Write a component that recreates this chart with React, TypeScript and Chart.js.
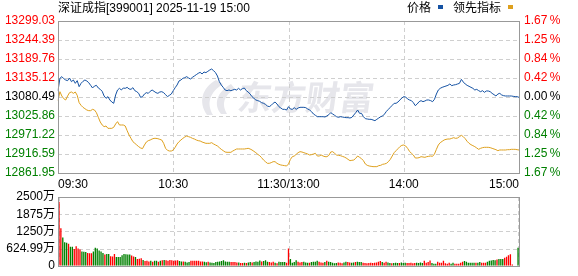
import React, { useEffect, useRef } from "react";
import { Chart, registerables } from "chart.js";

Chart.register(...registerables);

// ---------- data ----------
const TITLE = "深证成指[399001] 2025-11-19 15:00";
const SERIES_NAMES = ["价格", "领先指标"];
const WATERMARK = "东方财富";

const PREV_CLOSE = 13080.49;
const PRICE_MIN = 12861.95;
const PRICE_MAX = 13299.03;
const PRICE_TICKS = [12861.95, 12916.59, 12971.22, 13025.86, 13080.49, 13135.12, 13189.76, 13244.39, 13299.03];
const PRICE_TICK_LABELS = ["12861.95", "12916.59", "12971.22", "13025.86", "13080.49", "13135.12", "13189.76", "13244.39", "13299.03"];
const PCT_TICK_LABELS = ["1.67\u2009%", "1.25\u2009%", "0.84\u2009%", "0.42\u2009%", "0.00\u2009%", "0.42\u2009%", "0.84\u2009%", "1.25\u2009%", "1.67\u2009%"];

const VOL_MAX = 2500;
const VOL_TICKS = [0, 625, 1250, 1875, 2500];
const VOL_TICK_LABELS = ["0", "624.99万", "1250万", "1875万", "2500万"];

const TIME_TICK_INDEX = [0, 60, 120, 180, 240];
const TIME_TICK_LABELS = ["09:30", "10:30", "11:30/13:00", "14:00", "15:00"];

function minuteLabel(i: number): string {
  const t = i <= 120 ? 570 + i : 780 + (i - 120);
  const h = Math.floor(t / 60);
  const m = t % 60;
  return String(h).padStart(2, "0") + ":" + String(m).padStart(2, "0");
}
const TIMES: string[] = Array.from({ length: 241 }, (_, i) => minuteLabel(i));

const PRICE = [
  13098.7, 13134.2, 13139.0, 13133.2, 13129.4, 13127.5, 13135.1, 13124.6, 13129.4, 13119.8,
  13127.5, 13110.2, 13119.8, 13125.5, 13129.4, 13126.5, 13121.7, 13114.0, 13106.4, 13112.1,
  13114.0, 13106.4, 13102.5, 13096.8, 13083.4, 13076.7, 13081.5, 13071.9, 13066.1, 13062.3,
  13086.3, 13100.6, 13105.4, 13100.6, 13106.4, 13105.4, 13108.3, 13103.5, 13102.5, 13107.3,
  13098.7, 13095.8, 13091.0, 13079.5, 13081.5, 13089.1, 13093.0, 13091.0, 13096.8, 13100.6,
  13096.8, 13093.0, 13091.0, 13094.9, 13095.8, 13093.0, 13087.2, 13081.5, 13085.3, 13089.1,
  13098.7, 13107.3, 13115.0, 13126.5, 13129.4, 13134.2, 13136.1, 13139.0, 13135.1, 13132.3,
  13137.1, 13140.9, 13144.7, 13148.6, 13151.4, 13146.6, 13152.4, 13150.5, 13154.3, 13158.1,
  13161.0, 13156.2, 13150.5, 13140.9, 13124.6, 13115.0, 13108.3, 13100.6, 13098.7, 13100.6,
  13098.7, 13100.6, 13102.5, 13100.6, 13105.4, 13100.6, 13104.5, 13106.4, 13098.7, 13094.9,
  13089.1, 13081.5, 13076.7, 13071.9, 13070.0, 13068.0, 13064.2, 13062.3, 13059.4, 13054.6,
  13052.7, 13056.5, 13062.3, 13066.1, 13060.4, 13052.7, 13048.9, 13045.0, 13045.0, 13043.1,
  13052.7, 13046.0, 13045.0, 13049.8, 13045.0, 13048.9, 13050.8, 13050.8, 13050.8, 13049.8,
  13046.0, 13043.1, 13038.3, 13031.6, 13027.8, 13023.9, 13023.9, 13023.9, 13023.9, 13023.0,
  13025.9, 13029.7, 13035.5, 13031.6, 13027.8, 13023.9, 13022.0, 13023.9, 13023.0, 13022.0,
  13021.1, 13021.1, 13020.1, 13022.0, 13028.7, 13035.5, 13043.1, 13033.5, 13033.5, 13023.9,
  13018.2, 13017.2, 13016.3, 13016.3, 13014.4, 13012.4, 13016.3, 13020.1, 13023.9, 13025.9,
  13031.6, 13039.3, 13045.0, 13050.8, 13056.5, 13062.3, 13062.3, 13066.1, 13071.9, 13077.6,
  13081.5, 13080.5, 13074.7, 13071.9, 13070.0, 13064.2, 13055.6, 13060.4, 13067.1, 13070.0,
  13067.1, 13069.0, 13071.9, 13071.9, 13070.0, 13067.1, 13073.8, 13089.1, 13100.6, 13105.4,
  13108.3, 13110.2, 13112.1, 13114.0, 13117.9, 13113.1, 13115.0, 13116.0, 13117.9, 13119.8,
  13131.3, 13123.6, 13117.9, 13114.0, 13111.2, 13108.3, 13105.4, 13100.6, 13102.5, 13098.7,
  13095.8, 13098.7, 13093.9, 13097.8, 13097.8, 13095.8, 13091.0, 13087.2, 13083.4, 13089.1,
  13091.0, 13086.3, 13084.3, 13083.4, 13083.4, 13083.4, 13083.4, 13082.4, 13081.5, 13081.5, 13079.5,
];

const LEAD = [
  13070.0, 13095.8, 13083.4, 13075.7, 13071.9, 13083.4, 13092.9, 13094.9, 13091.0, 13094.9,
  13085.3, 13064.2, 13056.5, 13050.8, 13046.9, 13043.1, 13041.2, 13041.2, 13045.0, 13043.1,
  13035.4, 13022.0, 13008.6, 13000.0, 12995.2, 12997.1, 12990.4, 12990.4, 12990.4, 12993.3,
  13002.9, 13009.6, 13000.0, 13000.0, 13000.0, 12997.1, 12983.7, 12971.2, 12961.6, 12952.0,
  12947.3, 12942.5, 12937.7, 12933.9, 12932.0, 12942.5, 12951.1, 12954.9, 12956.8, 12959.7,
  12961.6, 12961.6, 12960.6, 12958.7, 12956.8, 12947.3, 12932.9, 12927.2, 12925.2, 12925.2,
  12928.1, 12935.8, 12945.4, 12952.0, 12956.8, 12961.6, 12965.4, 12968.3, 12966.4, 12964.5,
  12961.6, 12959.7, 12956.8, 12954.9, 12954.0, 12951.1, 12949.2, 12947.3, 12947.3, 12947.3,
  12949.2, 12945.4, 12942.5, 12939.6, 12934.8, 12930.0, 12926.2, 12922.3, 12921.4, 12921.4,
  12921.4, 12925.2, 12928.1, 12931.0, 12931.0, 12931.0, 12931.0, 12931.0, 12931.9, 12932.9,
  12931.0, 12928.1, 12924.3, 12920.4, 12915.6, 12911.8, 12906.0, 12899.3, 12894.5, 12889.8,
  12889.8, 12891.7, 12894.5, 12894.5, 12889.8, 12886.9, 12885.0, 12884.0, 12883.1, 12882.1,
  12887.9, 12901.2, 12908.9, 12910.8, 12915.6, 12920.4, 12923.3, 12922.3, 12920.4, 12918.5,
  12916.6, 12913.7, 12914.7, 12916.6, 12918.5, 12910.8, 12910.8, 12913.7, 12910.8, 12908.9,
  12908.9, 12912.7, 12922.3, 12923.3, 12918.5, 12913.7, 12912.7, 12911.8, 12909.9, 12908.0,
  12905.1, 12901.2, 12897.4, 12898.4, 12899.3, 12904.1, 12910.8, 12907.0, 12903.2, 12897.4,
  12887.9, 12884.0, 12882.1, 12881.1, 12880.2, 12880.2, 12880.2, 12883.1, 12884.0, 12886.9,
  12887.9, 12889.8, 12894.5, 12901.2, 12910.8, 12920.4, 12926.2, 12931.9, 12937.7, 12941.5,
  12942.5, 12939.6, 12932.9, 12924.3, 12918.5, 12913.7, 12905.1, 12905.1, 12906.0, 12908.9,
  12908.0, 12907.0, 12908.9, 12909.9, 12910.8, 12909.9, 12916.6, 12930.0, 12942.5, 12949.2,
  12953.0, 12956.8, 12958.7, 12959.7, 12959.7, 12961.6, 12963.5, 12961.6, 12962.6, 12966.4,
  12970.2, 12966.4, 12960.6, 12953.0, 12947.3, 12943.4, 12940.6, 12937.7, 12933.9, 12930.0,
  12932.9, 12934.8, 12935.8, 12935.8, 12935.8, 12934.8, 12932.9, 12931.0, 12929.0, 12926.2,
  12928.1, 12928.1, 12928.1, 12928.1, 12929.0, 12929.0, 12930.0, 12930.0, 12930.0, 12929.0, 12928.1,
];

// volume in 万
const VOLUME = [
  2330, 1369, 1030, 860, 837, 803, 690, 690, 611, 713,
  633, 588, 520, 509, 498, 464, 452, 452, 520, 656,
  633, 554, 520, 464, 407, 430, 430, 351, 339, 430,
  317, 317, 317, 385, 430, 419, 407, 407, 373, 339,
  317, 249, 260, 271, 215, 170, 181, 158, 181, 147,
  181, 181, 147, 181, 204, 215, 204, 181, 215, 204,
  181, 190, 204, 170, 158, 158, 147, 124, 136, 181,
  181, 181, 181, 181, 158, 158, 147, 130, 147, 124,
  113, 102, 136, 147, 158, 170, 204, 158, 147, 147,
  136, 136, 136, 120, 124, 102, 102, 113, 102, 124,
  136, 124, 136, 158, 147, 192, 158, 170, 204, 150,
  136, 124, 147, 113, 90, 147, 136, 136, 136, 113,
  633, 249, 113, 136, 204, 147, 124, 136, 147, 124,
  113, 113, 136, 147, 147, 181, 147, 124, 113, 136,
  181, 147, 136, 113, 90, 102, 124, 113, 90, 124,
  147, 136, 124, 113, 124, 136, 147, 136, 136, 113,
  102, 90, 102, 113, 102, 113, 124, 147, 170, 136,
  113, 147, 124, 102, 90, 102, 113, 102, 102, 124,
  102, 113, 102, 102, 113, 90, 102, 113, 102, 124,
  102, 181, 113, 136, 192, 102, 78, 78, 146, 112,
  112, 180, 90, 78, 112, 78, 112, 78, 78, 78,
  112, 146, 170, 146, 112, 112, 112, 112, 112, 112,
  135, 112, 112, 112, 146, 180, 190, 210, 203, 225,
  248, 248, 248, 293, 327, 384, 418, 44, 0, 0, 655,
];

// R = up (red), G = down (green)
const VOLUME_DIR = [
  "R", "R", "G", "G", "G", "R", "G", "G", "R", "R",
  "R", "R", "G", "G", "G", "R", "R", "R", "G", "G",
  "G", "G", "G", "G", "R", "G", "G", "R", "R", "R",
  "G", "G", "G", "G", "G", "G", "G", "G", "R", "R",
  "G", "R", "R", "R", "G", "R", "R", "R", "G", "R",
  "G", "G", "R", "G", "R", "G", "R", "R", "R", "R",
  "R", "R", "R", "G", "G", "R", "G", "G", "G", "R",
  "R", "R", "R", "R", "R", "R", "G", "G", "R", "G",
  "G", "G", "G", "G", "G", "G", "G", "G", "G", "G",
  "R", "R", "R", "R", "G", "R", "R", "G", "R", "G",
  "G", "R", "G", "G", "G", "G", "R", "G", "G", "G",
  "R", "R", "R", "G", "R", "G", "G", "G", "G", "R",
  "R", "G", "G", "G", "G", "R", "R", "R", "G", "G",
  "G", "R", "G", "G", "G", "G", "R", "R", "R", "G",
  "R", "G", "G", "G", "G", "G", "R", "R", "R", "G",
  "G", "R", "R", "G", "G", "R", "G", "G", "G", "R",
  "R", "R", "R", "R", "R", "R", "R", "R", "R", "G",
  "R", "R", "G", "G", "R", "G", "G", "G", "R", "G",
  "G", "G", "R", "R", "R", "R", "R", "G", "G", "G",
  "G", "R", "R", "R", "R", "G", "G", "G", "R", "R",
  "R", "R", "R", "R", "R", "G", "G", "R", "R", "R",
  "R", "R", "G", "G", "G", "G", "G", "G", "R", "G",
  "G", "R", "R", "R", "G", "G", "G", "G", "G", "R",
  "G", "G", "G", "R", "R", "R", "R", "R", "R", "R", "G",
];

// ---------- styles ----------
const FONT = '"Liberation Sans", Arial, "Noto Sans CJK SC", sans-serif';
const CJK_FONT = '"Noto Sans CJK SC", "Liberation Sans", sans-serif';
const RED = "#ff0000";
const GREEN = "#008000";
const BLACK = "#000000";
const BLUE_LINE = "#1552a3";
const ORANGE_LINE = "#dea01e";
const GRID = "#cfcfcf";
const FRAME = "#999999";
const W = 578;
const PLOT_LEFT = 58;
const PLOT_RIGHT_GAP = 59;

// dashed grid drawn from the chart's own scales
const gridPlugin = {
  id: "dashGrid",
  beforeDatasetsDraw(chart: any) {
    const { ctx, chartArea, scales } = chart;
    const { left, right, top, bottom } = chartArea;
    ctx.save();
    ctx.strokeStyle = GRID;
    ctx.lineWidth = 1;
    ctx.setLineDash([4, 3]);
    const ys = scales.y;
    ys.ticks.forEach((t: any) => {
      const p = Math.round(ys.getPixelForValue(t.value)) + 0.5;
      ctx.beginPath();
      ctx.moveTo(left, p);
      ctx.lineTo(right, p);
      ctx.stroke();
    });
    const xs = scales.x;
    xs.ticks.forEach((t: any) => {
      const p = Math.round(xs.getPixelForValue(t.value)) + 0.5;
      ctx.beginPath();
      ctx.moveTo(p, top);
      ctx.lineTo(p, bottom);
      ctx.stroke();
    });
    ctx.restore();
  },
};

const framePlugin = {
  id: "frame",
  afterDatasetsDraw(chart: any) {
    const { ctx, chartArea } = chart;
    ctx.save();
    ctx.strokeStyle = FRAME;
    ctx.lineWidth = 1;
    ctx.strokeRect(
      Math.round(chartArea.left) + 0.5,
      Math.round(chartArea.top) + 0.5,
      Math.round(chartArea.right - chartArea.left),
      Math.round(chartArea.bottom - chartArea.top)
    );
    ctx.restore();
  },
};

const decorPlugin = {
  id: "decor",
  beforeDatasetsDraw(chart: any) {
    const { ctx } = chart;
    ctx.save();
    ctx.fillStyle = "#e6e6eb";
    // logo swoosh
    ctx.beginPath();
    ctx.moveTo(216, 80);
    ctx.bezierCurveTo(202, 88, 198, 102, 207, 115);
    ctx.lineTo(213, 115);
    ctx.bezierCurveTo(206, 103, 210, 92, 223, 84);
    ctx.closePath();
    ctx.fill();
    ctx.beginPath();
    ctx.moveTo(231, 84);
    ctx.bezierCurveTo(217, 92, 213, 104, 221, 114);
    ctx.lineTo(227, 114);
    ctx.bezierCurveTo(221, 104, 224, 95, 235, 89);
    ctx.closePath();
    ctx.fill();
    // text
    ctx.translate(238, 97);
    ctx.transform(1, 0, -0.14, 1, 0, 0);
    ctx.font = "bold 34px " + CJK_FONT;
    ctx.textAlign = "left";
    ctx.textBaseline = "middle";
    ctx.fillText(WATERMARK, 0, 0);
    ctx.restore();
  },
  afterDraw(chart: any) {
    const { ctx } = chart;
    ctx.save();
    ctx.fillStyle = BLACK;
    ctx.textBaseline = "middle";
    ctx.textAlign = "left";
    ctx.font = "12px " + FONT;
    ctx.fillText(TITLE, 58, 8.5);
    ctx.fillText(SERIES_NAMES[0], 407, 8.5);
    ctx.fillText(SERIES_NAMES[1], 453, 8.5);
    ctx.fillStyle = BLUE_LINE;
    ctx.fillRect(438, 5, 5, 4);
    ctx.fillStyle = ORANGE_LINE;
    ctx.fillRect(508, 5, 5, 4);
    ctx.restore();
  },
};

function tickColor(c: any) {
  if (c.index > 4) return RED;
  if (c.index === 4) return BLACK;
  return GREEN;
}

export default function App() {
  const mainRef = useRef<HTMLCanvasElement>(null);
  const volRef = useRef<HTMLCanvasElement>(null);

  useEffect(() => {
    document.body.style.margin = "0";
    const font = { family: FONT, size: 12 };

    const main = new Chart(mainRef.current as HTMLCanvasElement, {
      type: "line",
      data: {
        labels: TIMES,
        datasets: [
          {
            label: SERIES_NAMES[0],
            data: PRICE,
            borderColor: BLUE_LINE,
            borderWidth: 1,
            pointRadius: 0,
            tension: 0,
            fill: false,
            yAxisID: "y",
          },
          {
            label: SERIES_NAMES[1],
            data: LEAD,
            borderColor: ORANGE_LINE,
            borderWidth: 1,
            pointRadius: 0,
            tension: 0,
            fill: false,
            yAxisID: "y",
          },
        ],
      },
      options: {
        animation: false,
        responsive: false,
        devicePixelRatio: 1,
        layout: { padding: { top: 21, left: 0, right: 0, bottom: 0 } },
        plugins: { legend: { display: false }, tooltip: { enabled: false }, title: { display: false } },
        events: [],
        scales: {
          x: {
            type: "category",
            offset: false,
            grid: { display: false, drawTicks: false },
            border: { display: false },
            afterBuildTicks: (s: any) => {
              s.ticks = TIME_TICK_INDEX.map((v) => ({ value: v }));
            },
            afterFit: (s: any) => {
              s.height = 19;
            },
            ticks: {
              autoSkip: false,
              maxRotation: 0,
              minRotation: 0,
              align: "inner",
              padding: 4,
              color: BLACK,
              font,
              callback: (_v: any, i: number) => TIME_TICK_LABELS[i],
            },
          },
          y: {
            type: "linear",
            position: "left",
            min: PRICE_MIN,
            max: PRICE_MAX,
            grid: { display: false, drawTicks: false },
            border: { display: false },
            afterBuildTicks: (s: any) => {
              s.ticks = PRICE_TICKS.map((v) => ({ value: v }));
            },
            afterFit: (s: any) => {
              s.width = PLOT_LEFT;
            },
            ticks: {
              autoSkip: false,
              padding: 3,
              font,
              color: tickColor,
              callback: (_v: any, i: number) => PRICE_TICK_LABELS[i],
            },
          },
          y1: {
            type: "linear",
            position: "right",
            min: PRICE_MIN,
            max: PRICE_MAX,
            grid: { display: false, drawTicks: false },
            border: { display: false },
            afterBuildTicks: (s: any) => {
              s.ticks = PRICE_TICKS.map((v) => ({ value: v }));
            },
            afterFit: (s: any) => {
              s.width = PLOT_RIGHT_GAP;
            },
            ticks: {
              autoSkip: false,
              padding: 5,
              font,
              color: tickColor,
              callback: (_v: any, i: number) => PCT_TICK_LABELS[i],
            },
          },
        },
      } as any,
      plugins: [decorPlugin, gridPlugin, framePlugin],
    });

    const vol = new Chart(volRef.current as HTMLCanvasElement, {
      type: "bar",
      data: {
        labels: TIMES,
        datasets: [
          {
            label: "成交量",
            data: VOLUME,
            backgroundColor: VOLUME_DIR.map((d) => (d === "R" ? RED : GREEN)),
            borderWidth: 0,
            barPercentage: 0.7,
            categoryPercentage: 1,
          },
        ],
      },
      options: {
        animation: false,
        responsive: false,
        devicePixelRatio: 1,
        layout: { padding: { top: 11, left: 0, right: PLOT_RIGHT_GAP, bottom: 0 } },
        plugins: { legend: { display: false }, tooltip: { enabled: false }, title: { display: false } },
        events: [],
        scales: {
          x: {
            type: "category",
            offset: true,
            grid: { display: false, drawTicks: false },
            border: { display: false },
            afterBuildTicks: (s: any) => {
              s.ticks = TIME_TICK_INDEX.map((v) => ({ value: v }));
            },
            afterFit: (s: any) => {
              s.height = 6;
            },
            ticks: { display: false, autoSkip: false },
          },
          y: {
            type: "linear",
            position: "left",
            min: 0,
            max: VOL_MAX,
            grid: { display: false, drawTicks: false },
            border: { display: false },
            afterBuildTicks: (s: any) => {
              s.ticks = VOL_TICKS.map((v) => ({ value: v }));
            },
            afterFit: (s: any) => {
              s.width = PLOT_LEFT;
            },
            ticks: {
              autoSkip: false,
              padding: 3,
              font: { family: FONT, size: 12 },
              color: BLACK,
              callback: (_v: any, i: number) => VOL_TICK_LABELS[i],
            },
          },
        },
      } as any,
      plugins: [gridPlugin, framePlugin],
    });

    return () => {
      main.destroy();
      vol.destroy();
    };
  }, []);

  return (
    <div style={{ position: "absolute", left: 0, top: 0, width: W, height: 276, background: "#fff" }}>
      <canvas
        ref={mainRef}
        width={W}
        height={192}
        style={{ position: "absolute", left: 0, top: 0, width: W, height: 192 }}
      />
      <canvas
        ref={volRef}
        width={W}
        height={90}
        style={{ position: "absolute", left: 0, top: 186, width: W, height: 90 }}
      />
    </div>
  );
}
